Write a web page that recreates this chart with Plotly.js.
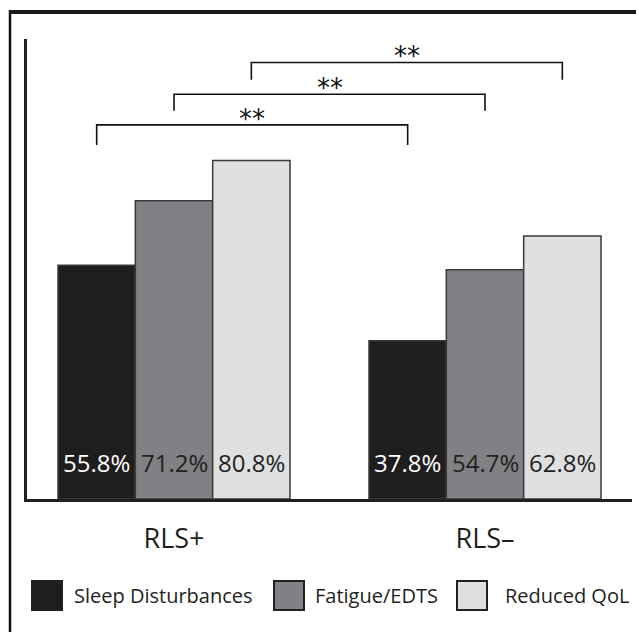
<!DOCTYPE html>
<html>
<head>
<meta charset="utf-8">
<script src="https://cdn.plot.ly/plotly-3.0.1.min.js"></script>
<style>html,body{margin:0;padding:0;background:#fff;} #chart{width:639px;height:632px;}</style>
</head>
<body>
<div id="chart"></div>
<script>
// ---- data ----
const categories = ["RLS+", "RLS\u2013"];
const seriesNames = ["Sleep Disturbances", "Fatigue/EDTS", "Reduced QoL"];
const sleepDisturbances = [55.8, 37.8];
const fatigueEDTS = [71.2, 54.7];
const reducedQoL = [80.8, 62.8];
const sigLabels = ["**", "**", "**"];

// ---- styles ----
const seriesValues = [sleepDisturbances, fatigueEDTS, reducedQoL];
const colors = ["#1f1d1e", "#808184", "#dfe0e2"];
const textColors = ["#ffffff", "#231f20", "#231f20"];
const ink = "#231f20";
const FONT = "Open Sans, Noto Sans, sans-serif";
const W = 639, H = 632;
const M = {l: 27, r: 7, t: 39, b: 133};
const PW = W - M.l - M.r, PH = H - M.t - M.b;
const bargap = 0.254;
const nS = seriesNames.length;
const bw = (1 - bargap) / nS;
function offset(i) { return -(1 - bargap) / 2 + (i + 0.5) * bw; }
const px = x => (x - M.l) / PW;       // pixel -> paper x
const py = y => (H - M.b - y) / PH;   // pixel -> paper y

const traces = seriesNames.map((name, i) => ({
  type: "bar",
  name: name,
  x: categories,
  y: seriesValues[i],
  marker: {color: colors[i], line: {color: "#3a3a3a", width: 1.5}},
  showlegend: false,
  hoverinfo: "x+y+name"
}));

const annotations = [];
const shapes = [];

// value labels inside bars
seriesValues.forEach((vals, i) => {
  vals.forEach((v, c) => {
    annotations.push({
      x: c + offset(i), y: 8.6, xref: "x", yref: "y",
      text: v.toFixed(1) + "%", showarrow: false,
      xanchor: "center", yanchor: "middle",
      font: {family: FONT, size: 24, color: textColors[i]}
    });
  });
});

// significance brackets (series i: RLS+ vs RLS-)
const bracketTop = [89.3, 96.6, 104.2];
const bracketDrop = [4.8, 3.9, 4.1];
sigLabels.forEach((lab, i) => {
  const x0 = 0 + offset(i), x1 = 1 + offset(i);
  const yt = bracketTop[i], yb = yt - bracketDrop[i];
  shapes.push({
    type: "path", xref: "x", yref: "y",
    path: `M ${x0} ${yb} L ${x0} ${yt} L ${x1} ${yt} L ${x1} ${yb}`,
    line: {color: "#111", width: 1.6}
  });
  annotations.push({
    x: (x0 + x1) / 2, y: yt, xref: "x", yref: "y",
    text: lab, showarrow: false, xanchor: "center", yanchor: "middle",
    yshift: 6,
    font: {family: "DejaVu Sans, sans-serif", size: 26, color: "#111"}
  });
});

// legend
const legSwX = [32, 274, 457];
const legTxtX = [72, 313, 503];
seriesNames.forEach((name, i) => {
  shapes.push({type: "rect", xref: "paper", yref: "paper",
    x0: px(legSwX[i]), x1: px(legSwX[i] + 30), y0: py(610), y1: py(581),
    fillcolor: colors[i], line: {color: ink, width: 2}});
  annotations.push({xref: "paper", yref: "paper", x: px(legTxtX[i]), y: py(595.5),
    text: name, showarrow: false, xanchor: "left", yanchor: "middle",
    font: {family: FONT, size: 20, color: ink}});
});

// outer frame: left edge and top edge
shapes.push({type: "line", xref: "paper", yref: "paper",
  x0: px(10), x1: px(10), y0: py(10), y1: py(632), line: {color: "#111", width: 2.5}});
shapes.push({type: "line", xref: "paper", yref: "paper",
  x0: px(9), x1: px(636), y0: py(12), y1: py(12), line: {color: "#1a1a1a", width: 4}});

const halfRange = (174 - M.l) / 311;
const layout = {
  width: W, height: H,
  margin: M,
  paper_bgcolor: "#fff", plot_bgcolor: "#fff",
  barmode: "group", bargap: bargap, bargroupgap: 0,
  showlegend: false,
  font: {family: FONT, color: ink},
  xaxis: {
    type: "category", range: [-halfRange, 1 + halfRange],
    showline: true, linecolor: ink, linewidth: 3,
    showgrid: false, zeroline: false, ticks: "",
    tickfont: {family: FONT, size: 27, color: ink},
    ticklabelstandoff: 14
  },
  yaxis: {
    range: [0, 109.8], showline: true, linecolor: ink, linewidth: 3,
    showgrid: false, zeroline: false, showticklabels: false, ticks: ""
  },
  shapes: shapes,
  annotations: annotations
};

Plotly.newPlot("chart", traces, layout, {displayModeBar: false, staticPlot: true});
</script>
</body>
</html>
